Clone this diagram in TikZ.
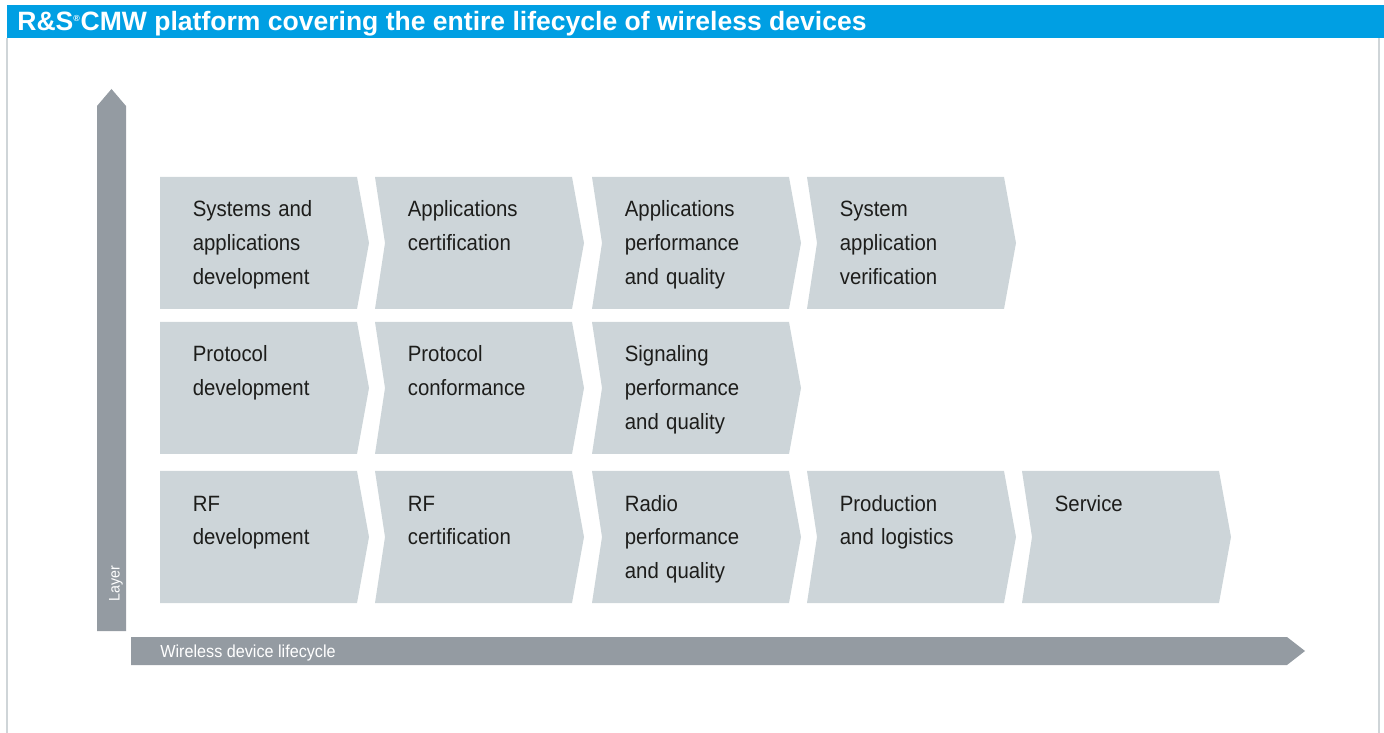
\documentclass[tikz,border=0pt]{standalone}
\usepackage{fontspec}
\setmainfont{Liberation Sans}
\newfontfamily\axisfont[FakeStretch=0.93]{Liberation Sans}
\newfontfamily\stepfont[FakeStretch=0.92]{Liberation Sans}
\usepackage{tikz}
\usetikzlibrary{calc,positioning}

\definecolor{rsblue}{HTML}{009FE3}
\definecolor{stepgray}{HTML}{CDD5D9}
\definecolor{axisgray}{HTML}{949BA2}
\definecolor{framegray}{HTML}{CFD5D8}
\definecolor{inkdark}{HTML}{1D1D1B}

% one chevron: left x, top y, notch depth
\newcommand{\lifestep}[3]{%
  \fill[stepfill] (#1,#2) -- ++(197,0) -- ++(12,66) -- ++(-12,66) -- ++(-197,0) -- ++(#3,-66) -- cycle;}

\begin{document}
\begin{tikzpicture}[
    x=0.02cm, y=-0.02cm,
    stepfill/.style={fill=stepgray},
    axisfill/.style={fill=axisgray},
    steptext/.style={
        anchor=base west, inner sep=0pt,
        text width=5cm, align=left, text=inkdark,
        font=\stepfont\fontsize{12.6}{19.35}\selectfont},
    axistext/.style={
        anchor=base west, inner sep=0pt, text=white,
        font=\axisfont\fontsize{9.9}{11}\selectfont}
  ]
  \useasboundingbox (0,0) rectangle (1384,733);

  % frame and title bar
  \draw[framegray, line width=1.2pt] (7,38) -- (7,733);
  \draw[framegray, line width=1.2pt] (1379,38) -- (1379,733);
  \fill[rsblue] (7,5) rectangle (1384,38);
  \node (title) [anchor=base west, inner sep=0pt, text=white,
    font=\bfseries\fontsize{15.1}{17}\selectfont] at (17,31)
    {R\&S\textsuperscript{\tiny\textregistered}CMW platform covering the entire lifecycle of wireless devices};

  % axes
  \fill[axisfill] (97,631) -- (97,106) -- (111.5,89) -- (126,106) -- (126,631) -- cycle;
  \fill[axisfill] (131,637) -- (1287,637) -- (1305,651) -- (1287,665) -- (131,665) -- cycle;
  \node (layer) [axistext, rotate=90, font=\axisfont\fontsize{8.7}{9}\selectfont] at (119.5,602) {Layer};
  \node (cycle) [axistext] at (160,657.5) {Wireless device lifecycle};

  % application layer
  \lifestep{160}{177}{0}
  \lifestep{375}{177}{10}
  \lifestep{592}{177}{10}
  \lifestep{807}{177}{10}
  \node (appdev)  [steptext] at (192.5,217) {Systems and\\applications\\development};
  \node (appcert) [steptext] at (407.5,217) {Applications\\certification};
  \node (appperf) [steptext] at (624.5,217) {Applications\\performance\\and quality};
  \node (sysver)  [steptext] at (839.5,217) {System\\application\\verification};

  % protocol layer
  \lifestep{160}{322}{0}
  \lifestep{375}{322}{10}
  \lifestep{592}{322}{10}
  \node (protdev)  [steptext] at (192.5,362) {Protocol\\development};
  \node (protconf) [steptext] at (407.5,362) {Protocol\\conformance};
  \node (sigperf)  [steptext] at (624.5,362) {Signaling\\performance\\and quality};

  % RF layer
  \lifestep{160}{471}{0}
  \lifestep{375}{471}{10}
  \lifestep{592}{471}{10}
  \lifestep{807}{471}{10}
  \lifestep{1022}{471}{10}
  \node (rfdev)   [steptext] at (192.5,511) {RF\\development};
  \node (rfcert)  [steptext] at (407.5,511) {RF\\certification};
  \node (radperf) [steptext] at (624.5,511) {Radio\\performance\\and quality};
  \node (prod)    [steptext] at (839.5,511) {Production\\and logistics};
  \node (service) [steptext] at (1054.5,511) {Service};
\end{tikzpicture}
\end{document}
